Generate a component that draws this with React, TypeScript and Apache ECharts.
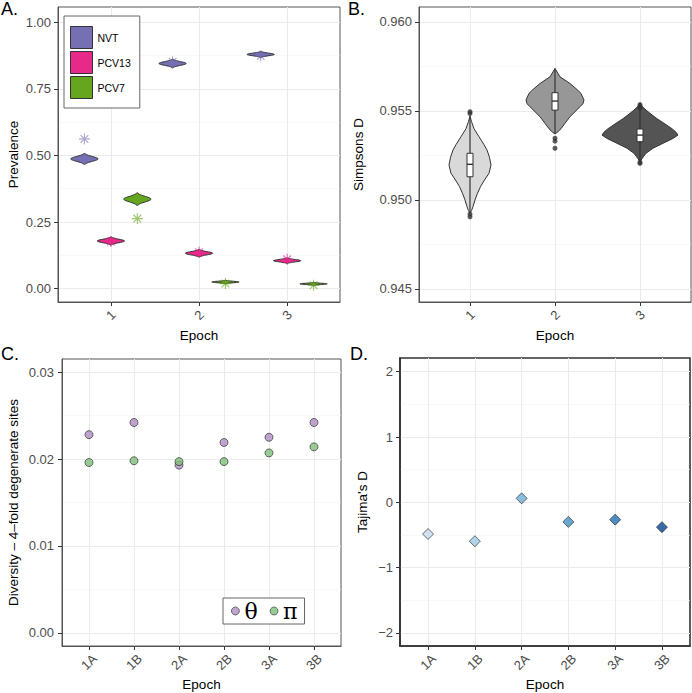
import React, { useEffect, useRef } from "react";
import * as echarts from "echarts";

// ---------- Panel A: prevalence by epoch ----------
const epochsA = [1, 2, 3];
const epochLabelsA = ["1", "2", "3"];
const groupsA = ["NVT", "PCV13", "PCV7"];
const nvtViolinCenter = [0.487, 0.845, 0.879];
const nvtViolinHalfHeight = [0.022, 0.017, 0.012];
const pcv13ViolinCenter = [0.179, 0.133, 0.105];
const pcv13ViolinHalfHeight = [0.016, 0.015, 0.011];
const pcv7ViolinCenter = [0.336, 0.025, 0.018];
const pcv7ViolinHalfHeight = [0.025, 0.007, 0.006];
const nvtObserved = [0.562, 0.852, 0.873];
const pcv13Observed = [0.177, 0.137, 0.11];
const pcv7Observed = [0.263, 0.019, 0.013];

// ---------- Panel B: Simpson's D ----------
const epochsB = [1, 2, 3];
const boxLow = [0.9513, 0.95504, 0.95327];
const boxMedian = [0.952, 0.95555, 0.95364];
const boxHigh = [0.95262, 0.95602, 0.95398];
const whiskerLow = [0.94925, 0.9537, 0.95214];
const whiskerHigh = [0.9547, 0.95738, 0.95542];
// [value, half width (category units)]
const violinProfile1 = [
  [0.9547, 0], [0.9544, 0.018], [0.954, 0.047], [0.95355, 0.106], [0.9531, 0.165],
  [0.9528, 0.2], [0.9524, 0.229], [0.95196, 0.247], [0.9515, 0.224], [0.95112, 0.171],
  [0.95075, 0.124], [0.95037, 0.088], [0.95, 0.059], [0.94962, 0.035], [0.9494, 0.018], [0.94925, 0],
];
const violinProfile2 = [
  [0.95738, 0], [0.9571, 0.035], [0.95691, 0.059], [0.95654, 0.176], [0.9562, 0.259],
  [0.95598, 0.306], [0.95561, 0.341], [0.9554, 0.329], [0.95523, 0.294], [0.95495, 0.235],
  [0.95467, 0.176], [0.9543, 0.118], [0.954, 0.071], [0.95383, 0.035], [0.9537, 0],
];
const violinProfile3 = [
  [0.95542, 0], [0.9552, 0.035], [0.955, 0.082], [0.95486, 0.118], [0.9546, 0.188],
  [0.9543, 0.282], [0.954, 0.376], [0.9538, 0.424], [0.95364, 0.447], [0.95345, 0.388],
  [0.95318, 0.271], [0.9529, 0.153], [0.95262, 0.071], [0.95235, 0.029], [0.95214, 0],
];
const outlierEpoch = [1, 1, 1, 1, 2, 2, 2, 3, 3, 3, 3, 3];
const outlierValue = [0.95495, 0.95485, 0.9492, 0.94905, 0.95346, 0.9533, 0.9529, 0.95535, 0.95525, 0.95515, 0.95212, 0.95205];

// ---------- Panel C: diversity ----------
const strata = ["1A", "1B", "2A", "2B", "3A", "3B"];
const thetaValues = [0.0228, 0.0242, 0.0193, 0.0219, 0.0225, 0.0242];
const piValues = [0.0196, 0.0198, 0.0197, 0.0197, 0.0207, 0.0214];

// ---------- Panel D: Tajima's D ----------
const tajimaD = [-0.485, -0.596, 0.061, -0.3, -0.265, -0.38];

// ---------- styles ----------
const FONT = "'Liberation Sans', Arial, Helvetica, sans-serif";
const TICK = "#4d4d4d";
const groupColors = ["#7570b3", "#e7298a", "#66a61e"];
const starColors = ["rgba(117,112,179,0.75)", "rgba(231,41,138,0.85)", "rgba(102,166,30,0.8)"];
const greyFills = ["#d9d9d9", "#979797", "#545454"];
const tajimaColors = ["#c6dbef", "#9ecae1", "#6baed6", "#4292c6", "#2171b5", "#084594"];
const DODGE = [-0.3, 0, 0.3];

const STAR = "path://M5,0L5,10M0,5L10,5M1.5,1.5L8.5,8.5M1.5,8.5L8.5,1.5";

function xAxisCfg(gridIndex, max, values, labels, margin, nameGap, lineColor, lineWidth) {
  return {
    type: "value", gridIndex, min: 0.4, max, position: "bottom",
    axisLine: { show: true, onZero: false, lineStyle: { color: lineColor, width: lineWidth } },
    axisTick: { show: true, customValues: values, length: 4, lineStyle: { color: "#333", width: 1 } },
    axisLabel: {
      customValues: values,
      formatter: (v) => labels[Math.round(v) - 1],
      rotate: 45, align: "center", verticalAlign: "middle", margin,
      color: TICK, fontSize: 13, fontFamily: FONT,
    },
    splitLine: { show: true, lineStyle: { color: "#ebebeb", width: 1 } },
    name: "Epoch", nameLocation: "middle", nameGap,
    nameTextStyle: { color: "#000", fontSize: 13.5, fontFamily: FONT },
  };
}

function yAxisCfg(gridIndex, min, max, values, fmt, margin, name, nameGap, lineColor, lineWidth) {
  return {
    type: "value", gridIndex, min, max, position: "left",
    axisLine: { show: true, onZero: false, lineStyle: { color: lineColor, width: lineWidth } },
    axisTick: { show: true, customValues: values, length: 4, lineStyle: { color: "#333", width: 1 } },
    axisLabel: { customValues: values, formatter: fmt, margin, color: TICK, fontSize: 13, fontFamily: FONT },
    splitLine: { show: true, lineStyle: { color: "#ebebeb", width: 1 } },
    name, nameLocation: "middle", nameGap, nameRotate: 90,
    nameTextStyle: { color: "#000", fontSize: 13.5, fontFamily: FONT },
  };
}

function yMinorCfg(gridIndex, min, max, values) {
  return {
    type: "value", gridIndex, min, max, position: "left",
    axisLine: { show: false, onZero: false },
    axisTick: { show: false, customValues: values },
    axisLabel: { show: false, customValues: values },
    splitLine: { show: true, lineStyle: { color: "#f3f3f3", width: 0.6 } },
  };
}

function violinA(gi) {
  return (params, api) => {
    const x = api.value(0);
    const c = api.value(1);
    const s = api.value(2);
    const [cx, cy] = api.coord([x, c]);
    const hw = api.size([0.155, 0])[0];
    const hs = api.size([0, s])[1];
    const N = 30;
    const e3 = Math.exp(-3);
    const right = [];
    const left = [];
    for (let k = 0; k <= N; k++) {
      const t = -1 + (2 * k) / N;
      const w = (hw * (Math.exp(-3 * t * t) - e3)) / (1 - e3);
      right.push([cx + w, cy - t * hs]);
      left.unshift([cx - w, cy - t * hs]);
    }
    return {
      type: "polygon",
      shape: { points: right.concat(left) },
      style: { fill: groupColors[gi], stroke: "#333", lineWidth: 1 },
    };
  };
}

const profiles = [violinProfile1, violinProfile2, violinProfile3];

function violinB(params, api) {
  const e = api.value(0);
  const idx = Math.round(e) - 1;
  const prof = profiles[idx];
  const right = [];
  const left = [];
  prof.forEach(([v, w]) => {
    right.push(api.coord([e + w, v]));
    left.unshift(api.coord([e - w, v]));
  });
  const bl = api.coord([e, api.value(1)]);
  const bm = api.coord([e, api.value(2)]);
  const bh = api.coord([e, api.value(3)]);
  const wl = api.coord([e, api.value(4)]);
  const wh = api.coord([e, api.value(5)]);
  const bw = 3;
  return {
    type: "group",
    children: [
      { type: "polygon", shape: { points: right.concat(left) }, style: { fill: greyFills[idx], stroke: "#333", lineWidth: 1 } },
      { type: "line", shape: { x1: wl[0], y1: wl[1], x2: wh[0], y2: wh[1] }, style: { stroke: "#333", lineWidth: 1.2 } },
      { type: "rect", shape: { x: bh[0] - bw, y: bh[1], width: bw * 2, height: bl[1] - bh[1] }, style: { fill: "#fff", stroke: "#333", lineWidth: 1 } },
      { type: "line", shape: { x1: bm[0] - bw, y1: bm[1], x2: bm[0] + bw, y2: bm[1] }, style: { stroke: "#333", lineWidth: 1.4 } },
    ],
  };
}

export default function App() {
  const ref = useRef(null);
  useEffect(() => {
    const chart = echarts.init(ref.current, null, { renderer: "svg" });
    const centersA = [nvtViolinCenter, pcv13ViolinCenter, pcv7ViolinCenter];
    const halfA = [nvtViolinHalfHeight, pcv13ViolinHalfHeight, pcv7ViolinHalfHeight];
    const obsA = [nvtObserved, pcv13Observed, pcv7Observed];

    const seriesA = [];
    groupsA.forEach((g, gi) => {
      seriesA.push({
        type: "custom", name: g, xAxisIndex: 0, yAxisIndex: 0,
        itemStyle: { color: groupColors[gi] },
        renderItem: violinA(gi),
        encode: { x: 0, y: 1 },
        data: epochsA.map((e, i) => [e + DODGE[gi], centersA[gi][i], halfA[gi][i]]),
        z: 3,
      });
    });
    groupsA.forEach((g, gi) => {
      seriesA.push({
        type: "scatter", name: g + " observed", xAxisIndex: 0, yAxisIndex: 0,
        symbol: STAR, symbolSize: 11,
        itemStyle: { color: "none", borderColor: starColors[gi], borderWidth: 1.1 },
        data: epochsA.map((e, i) => [e + DODGE[gi], obsA[gi][i]]),
        z: 4,
      });
    });

    const titleStyle = { fontSize: 18, fontWeight: "normal", color: "#000", fontFamily: FONT };
    const option = {
      animation: false,
      backgroundColor: "#fff",
      title: [
        { text: "A.", left: 1, top: 0, padding: 0, textStyle: titleStyle },
        { text: "B.", left: 348, top: 0, padding: 0, textStyle: titleStyle },
        { text: "C.", left: 1, top: 345, padding: 0, textStyle: titleStyle },
        { text: "D.", left: 350, top: 345, padding: 0, textStyle: titleStyle },
      ],
      legend: [
        {
          data: groupsA.map((g) => ({ name: g, icon: "rect" })),
          orient: "vertical", left: 64, top: 16, itemWidth: 22, itemHeight: 22, itemGap: 2,
          padding: [10, 9, 9, 6], backgroundColor: "#fff", borderColor: "#666", borderWidth: 1,
          itemStyle: { borderColor: "#333", borderWidth: 1 },
          textStyle: { fontSize: 10.5, color: "#000", fontFamily: FONT },
          selectedMode: false,
        },
        {
          data: [{ name: "θ", icon: "circle" }, { name: "π", icon: "circle" }],
          orient: "horizontal", left: 223, top: 598, itemWidth: 8, itemHeight: 8, itemGap: 12,
          padding: [2, 7, 2, 8], backgroundColor: "#fff", borderColor: "#666", borderWidth: 1,
          itemStyle: { borderColor: "#333", borderWidth: 0.8 },
          textStyle: { fontSize: 22, color: "#000", fontFamily: "'DejaVu Serif', 'Liberation Serif', serif" },
          selectedMode: false,
        },
      ],
      grid: [
        { left: 58, top: 7, width: 282, height: 295, show: true, borderColor: "#555", borderWidth: 1, backgroundColor: "#fff" },
        { left: 419, top: 7, width: 272, height: 295, show: true, borderColor: "#555", borderWidth: 1, backgroundColor: "#fff" },
        { left: 62, top: 359, width: 279, height: 287, show: true, borderColor: "#555", borderWidth: 1, backgroundColor: "#fff" },
        { left: 400, top: 358, width: 290, height: 288, show: true, borderColor: "#333", borderWidth: 1.6, backgroundColor: "#fff" },
      ],
      xAxis: [
        xAxisCfg(0, 3.6, epochsA, epochLabelsA, 13, 26, "#555", 1),
        xAxisCfg(1, 3.6, epochsB, epochLabelsA, 13, 26, "#555", 1),
        xAxisCfg(2, 6.6, [1, 2, 3, 4, 5, 6], strata, 16, 31, "#555", 1),
        xAxisCfg(3, 6.6, [1, 2, 3, 4, 5, 6], strata, 16, 31, "#333", 1.6),
      ],
      yAxis: [
        yAxisCfg(0, -0.05, 1.057, [0, 0.25, 0.5, 0.75, 1], (v) => v.toFixed(2), 7, "Prevalence", 38, "#555", 1),
        yMinorCfg(0, -0.05, 1.057, [0.125, 0.375, 0.625, 0.875]),
        yAxisCfg(1, 0.94427, 0.96083, [0.945, 0.95, 0.955, 0.96], (v) => v.toFixed(3), 7, "Simpsons D", 54, "#555", 1),
        yMinorCfg(1, 0.94427, 0.96083, [0.9475, 0.9525, 0.9575]),
        yAxisCfg(2, -0.0015, 0.0315, [0, 0.01, 0.02, 0.03], (v) => v.toFixed(2), 8, "Diversity – 4–fold degenerate sites", 42, "#555", 1),
        yMinorCfg(2, -0.0015, 0.0315, [0.005, 0.015, 0.025]),
        yAxisCfg(3, -2.2, 2.21, [-2, -1, 0, 1, 2], (v) => (v < 0 ? "−" + Math.abs(v) : String(v)), 7, "Tajima's D", 31, "#333", 1.6),
        yMinorCfg(3, -2.2, 2.21, [-1.5, -0.5, 0.5, 1.5]),
      ],
      series: [
        ...seriesA,
        {
          type: "custom", name: "Simpsons", xAxisIndex: 1, yAxisIndex: 2,
          renderItem: violinB, encode: { x: 0, y: 2 },
          data: epochsB.map((e, i) => [e, boxLow[i], boxMedian[i], boxHigh[i], whiskerLow[i], whiskerHigh[i]]),
          z: 3,
        },
        {
          type: "scatter", name: "outliers", xAxisIndex: 1, yAxisIndex: 2,
          symbol: "circle", symbolSize: 5, itemStyle: { color: "#333" },
          data: outlierEpoch.map((e, i) => [e, outlierValue[i]]),
          z: 4,
        },
        {
          type: "scatter", name: "θ", xAxisIndex: 2, yAxisIndex: 4,
          symbol: "circle", symbolSize: 8,
          itemStyle: { color: "#af8dc3", borderColor: "#222", borderWidth: 0.8 },
          data: thetaValues.map((v, i) => [i + 1, v]),
          z: 3,
        },
        {
          type: "scatter", name: "π", xAxisIndex: 2, yAxisIndex: 4,
          symbol: "circle", symbolSize: 8,
          itemStyle: { color: "#7fbf7b", borderColor: "#222", borderWidth: 0.8 },
          data: piValues.map((v, i) => [i + 1, v]),
          z: 4,
        },
        {
          type: "scatter", name: "Tajima", xAxisIndex: 3, yAxisIndex: 6,
          symbol: "diamond", symbolSize: 11,
          data: tajimaD.map((v, i) => ({ value: [i + 1, v], itemStyle: { color: tajimaColors[i], borderColor: "#222", borderWidth: 0.8 } })),
          z: 3,
        },
      ],
    };
    chart.setOption(option);
    return () => chart.dispose();
  }, []);
  return <div ref={ref} style={{ position: "absolute", left: 0, top: 0, width: 692, height: 693 }} />;
}
